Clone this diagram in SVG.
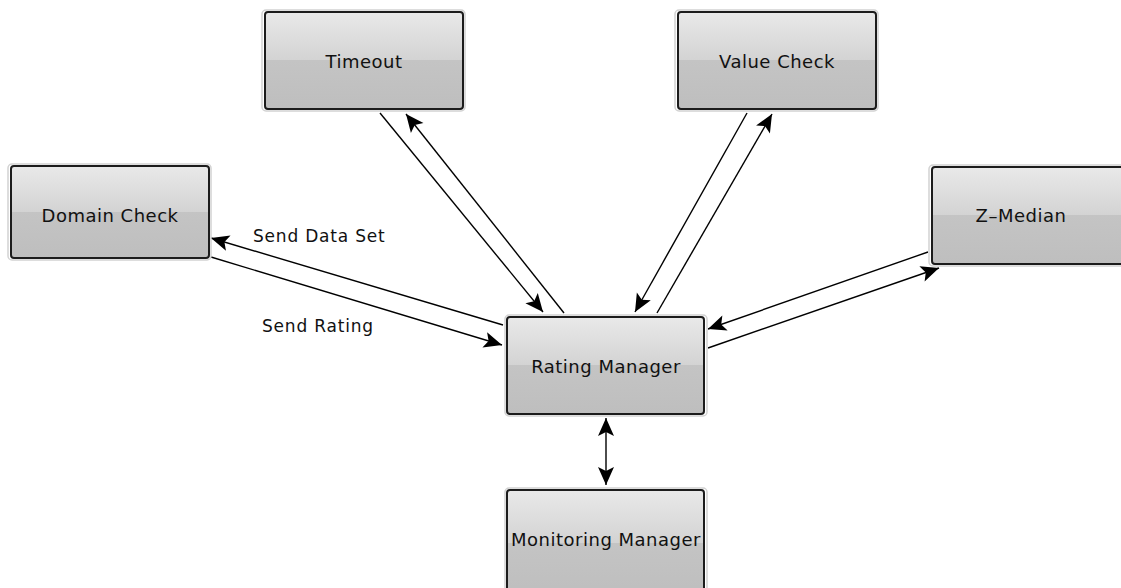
<svg xmlns="http://www.w3.org/2000/svg" width="1121" height="588" viewBox="0 0 1121 588">
<style>
.box{fill:url(#g);stroke:#1c1c1c;stroke-width:2}
.halo{fill:none;stroke:#d2d2d2;stroke-width:1.5}
.t{font-family:"DejaVu Sans",sans-serif;font-size:18px;letter-spacing:0.5px;text-anchor:middle;fill:#111}
.lbl{font-family:"DejaVu Sans",sans-serif;font-size:17px;letter-spacing:0.8px;fill:#111}
.c{stroke:#000;stroke-width:1.4;fill:none}
</style>
<defs>
<linearGradient id="g" x1="0" y1="0" x2="0" y2="1">
<stop offset="0" stop-color="#e9e9e9"/>
<stop offset="0.5" stop-color="#d3d3d3"/>
<stop offset="0.5" stop-color="#c4c4c4"/>
<stop offset="1" stop-color="#bebebe"/>
</linearGradient>
<marker id="a" markerUnits="userSpaceOnUse" viewBox="-1 -10 21 20" refX="18" refY="0" markerWidth="21" markerHeight="20" orient="auto">
<path d="M0,-8 L18,0 L0,8 L4,0 z" fill="#000"/>
</marker>
</defs>
<g id="connectors">
<line class="c" x1="503" y1="325" x2="211" y2="238" marker-end="url(#a)"/>
<line class="c" x1="211" y1="257" x2="502" y2="345" marker-end="url(#a)"/>
<line class="c" x1="380" y1="113" x2="543" y2="312" marker-end="url(#a)"/>
<line class="c" x1="564" y1="313" x2="406" y2="114" marker-end="url(#a)"/>
<line class="c" x1="747" y1="113" x2="635" y2="312" marker-end="url(#a)"/>
<line class="c" x1="657" y1="313" x2="772" y2="114" marker-end="url(#a)"/>
<line class="c" x1="928" y1="252" x2="708" y2="329" marker-end="url(#a)"/>
<line class="c" x1="708" y1="348" x2="939" y2="268" marker-end="url(#a)"/>
<line class="c" x1="606" y1="450" x2="606" y2="418" marker-end="url(#a)"/>
<line class="c" x1="606" y1="450" x2="606" y2="485" marker-end="url(#a)"/>
<text class="lbl" x="253" y="242">Send Data Set</text>
<text class="lbl" x="262" y="332">Send Rating</text>
</g>
<g id="timeout">
<rect class="halo" x="262" y="10" width="203" height="101" rx="4"/>
<rect class="box" x="265" y="12" width="198" height="97" rx="3"/>
<text class="t" x="364" y="68">Timeout</text>
</g>
<g id="value-check">
<rect class="halo" x="675" y="10" width="203" height="101" rx="4"/>
<rect class="box" x="678" y="12" width="198" height="97" rx="3"/>
<text class="t" x="777" y="68">Value Check</text>
</g>
<g id="domain-check">
<rect class="halo" x="8" y="164" width="203" height="96" rx="4"/>
<rect class="box" x="11" y="166" width="198" height="92" rx="3"/>
<text class="t" x="110" y="222">Domain Check</text>
</g>
<g id="z-median">
<rect class="halo" x="929" y="165" width="203" height="101" rx="4"/>
<rect class="box" x="932" y="167" width="198" height="97" rx="3"/>
<text class="t" x="1021" y="222">Z–Median</text>
</g>
<g id="rating-manager">
<rect class="halo" x="505" y="315" width="202" height="101" rx="4"/>
<rect class="box" x="507" y="317" width="197" height="97" rx="3"/>
<text class="t" x="606" y="373">Rating Manager</text>
</g>
<g id="monitoring-manager">
<rect class="halo" x="505" y="488" width="202" height="110" rx="4"/>
<rect class="box" x="507" y="490" width="197" height="106" rx="3"/>
<text class="t" x="606" y="546">Monitoring Manager</text>
</g>
</svg>
